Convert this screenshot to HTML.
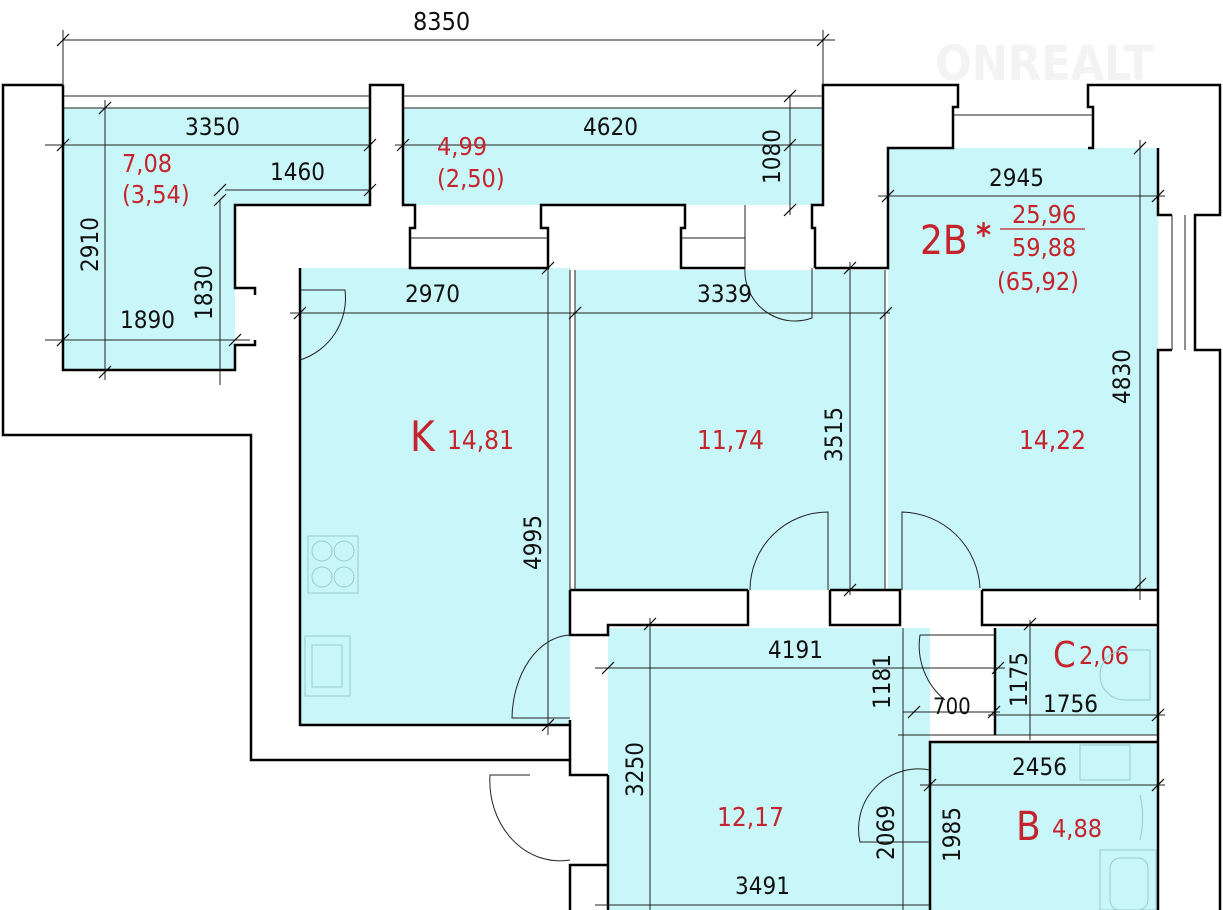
<!DOCTYPE html>
<html><head><meta charset="utf-8"><style>
html,body{margin:0;padding:0;background:#fff;}
svg{display:block;}
text{font-family:"DejaVu Sans Condensed","DejaVu Sans","Liberation Sans",sans-serif;}
.d{font-size:24px;fill:#111;}
.r{fill:#c4242b;}
</style></head><body>
<svg width="1223" height="910" viewBox="0 0 1223 910" xmlns="http://www.w3.org/2000/svg">
<text x="935" y="80" font-size="48" font-weight="bold" fill="#f3f3f3" font-family="Liberation Sans">ONREALT</text>
<g fill="#c9f6f8">
<rect x="63" y="108" width="307" height="97"/>
<rect x="63" y="205" width="172" height="165"/>
<rect x="403" y="108" width="420" height="97"/>
<rect x="300" y="268" width="270" height="457"/>
<rect x="575" y="270" width="310" height="320"/>
<rect x="888" y="148" width="270" height="442"/>
<rect x="608" y="628" width="322" height="282"/>
<rect x="995" y="628" width="163" height="107"/>
<rect x="930" y="742" width="228" height="168"/>
</g>
<g fill="none" stroke="#000" stroke-width="2.5">
<polyline points="63,85 3,85 3,435 251,435 251,760 570,760 570,775 608,775"/>
<polyline points="63,85 63,370 235,370 235,345 255,345 255,340"/>
<polyline points="255,295 255,288 235,288 235,205 370,205 370,85 403,85 403,205 415,205 415,228 410,228 410,268 548,268 548,228 541,228 541,205 685,205 685,228 681,228 681,268 745,268"/>
<polyline points="815,268 815,228 812,228 812,205 823,205 823,85 958,85 958,107 953,107 953,148 888,148 888,268 815,268"/>
<polyline points="1088,148 1093,148 1093,107 1088,107 1088,85 1220,85 1220,215 1195,215 1195,350 1220,350 1220,910"/>
<polyline points="1158,148 1158,215 1172,215"/>
<polyline points="1172,350 1158,350 1158,910"/>
<polyline points="300,268 300,725 570,725"/>
<polyline points="570,590 748,590"/>
<polyline points="830,590 900,590 900,625 830,625 830,590"/>
<polyline points="982,590 1158,590"/>
<polyline points="570,590 570,635 608,635 608,625 748,625 748,590"/>
<polyline points="570,720 570,760"/>
<polyline points="982,590 982,625 1158,625"/>
<line x1="608" y1="775" x2="608" y2="910"/>
<polyline points="570,910 570,865 608,865"/>
<line x1="995" y1="628" x2="995" y2="735"/>
<polyline points="930,910 930,742 1158,742"/>
</g>
<g fill="none" stroke="#222" stroke-width="1">
<line x1="63" y1="96" x2="370" y2="96"/><line x1="63" y1="108" x2="370" y2="108"/>
<line x1="403" y1="96" x2="823" y2="96"/><line x1="403" y1="108" x2="823" y2="108"/>
<line x1="410" y1="238" x2="548" y2="238"/><line x1="681" y1="238" x2="745" y2="238"/>
<line x1="745" y1="205" x2="745" y2="268"/>
<line x1="953" y1="115" x2="1093" y2="115"/>
<line x1="1172" y1="215" x2="1172" y2="350"/><line x1="1185" y1="215" x2="1185" y2="350"/>
<line x1="575" y1="270" x2="575" y2="590"/><line x1="570" y1="270" x2="570" y2="590"/>
<line x1="885" y1="270" x2="885" y2="590"/>
<line x1="903" y1="628" x2="903" y2="910"/>
<line x1="930" y1="735" x2="1158" y2="735"/>
<path d="M300,290 L345,290 A65,65 0 0 1 300,360"/>
<path d="M745,268 A50,50 0 0 0 812,318 L812,268"/>
<path d="M750,590 A78,78 0 0 1 828,512 L828,590"/>
<path d="M902,590 L902,512 A80,80 0 0 1 980,588"/>
<path d="M570,635 A60,85 0 0 0 512,718 L570,718"/>
<path d="M530,775 L490,775 A70,80 0 0 0 570,860"/>
<path d="M995,635 L920,635 A70,70 0 0 0 945,700"/>
<path d="M930,770 A60,60 0 0 0 860,842 L930,842"/>
<line x1="63" y1="40" x2="835" y2="40"/><line x1="63" y1="30" x2="63" y2="85"/><line x1="823" y1="30" x2="823" y2="85"/>
<line x1="45" y1="145" x2="370" y2="145"/><line x1="395" y1="145" x2="823" y2="145"/>
<line x1="105" y1="100" x2="105" y2="380"/>
<line x1="225" y1="190" x2="370" y2="190"/>
<line x1="220" y1="200" x2="220" y2="385"/>
<line x1="45" y1="340" x2="250" y2="340"/>
<line x1="790" y1="95" x2="790" y2="215"/>
<line x1="878" y1="196" x2="1165" y2="196"/>
<line x1="1140" y1="140" x2="1140" y2="600"/>
<line x1="290" y1="313" x2="890" y2="313"/>
<line x1="548" y1="265" x2="548" y2="735"/>
<line x1="850" y1="262" x2="850" y2="595"/>
<line x1="595" y1="668" x2="1005" y2="668"/>
<line x1="650" y1="618" x2="650" y2="910"/>
<line x1="903" y1="712" x2="1000" y2="712"/>
<line x1="898" y1="735" x2="1000" y2="735"/>
<line x1="988" y1="715" x2="1165" y2="715"/>
<line x1="1030" y1="620" x2="1030" y2="740"/>
<line x1="920" y1="785" x2="1165" y2="785"/>
<line x1="595" y1="905" x2="930" y2="905"/>
</g>
<g stroke="#000" stroke-width="1.2">
<path d="M57,46 l12,-12 M817,46 l12,-12 M57,151 l12,-12 M364,151 l12,-12 M397,151 l12,-12 M784,151 l12,-12 M99,114 l12,-12 M99,378 l12,-12 M214,196 l12,-12 M364,196 l12,-12 M214,206 l12,-12 M57,346 l12,-12 M229,346 l12,-12 M784,102 l12,-12 M784,216 l12,-12 M882,202 l12,-12 M1152,202 l12,-12 M1134,154 l12,-12 M1134,590 l12,-12 M294,319 l12,-12 M569,319 l12,-12 M880,319 l12,-12 M542,274 l12,-12 M542,731 l12,-12 M844,274 l12,-12 M844,596 l12,-12 M602,674 l12,-12 M992,674 l12,-12 M644,630 l12,-12 M908,718 l12,-12 M988,718 l12,-12 M1024,630 l12,-12 M1152,721 l12,-12 M924,791 l12,-12 M1152,791 l12,-12"/>
</g>
<g class="d">
<text x="413" y="30" font-size="25">8350</text>
<text x="185" y="135">3350</text>
<text x="583" y="135">4620</text>
<text x="270" y="180">1460</text>
<text x="989" y="186">2945</text>
<text x="405" y="302">2970</text>
<text x="697" y="302">3339</text>
<text x="120" y="328">1890</text>
<text x="768" y="658">4191</text>
<text x="1043" y="712">1756</text>
<text x="933" y="714" font-size="22">700</text>
<text x="1012" y="775">2456</text>
<text x="735" y="894">3491</text>
<text transform="translate(98,272) rotate(-90)">2910</text>
<text transform="translate(212,320) rotate(-90)">1830</text>
<text transform="translate(780,184) rotate(-90)">1080</text>
<text transform="translate(1130,404) rotate(-90)">4830</text>
<text transform="translate(842,462) rotate(-90)">3515</text>
<text transform="translate(541,570) rotate(-90)">4995</text>
<text transform="translate(890,709) rotate(-90)">1181</text>
<text transform="translate(1027,707) rotate(-90)">1175</text>
<text transform="translate(643,797) rotate(-90)">3250</text>
<text transform="translate(894,860) rotate(-90)">2069</text>
<text transform="translate(960,862) rotate(-90)">1985</text>
</g>
<g class="r">
<text x="122" y="172" font-size="25">7,08</text>
<text x="122" y="203" font-size="25">(3,54)</text>
<text x="437" y="155" font-size="25">4,99</text>
<text x="437" y="187" font-size="25">(2,50)</text>
<text x="410" y="451" font-size="42">K</text>
<text x="447" y="449" font-size="26">14,81</text>
<text x="697" y="449" font-size="26">11,74</text>
<text x="1019" y="449" font-size="26">14,22</text>
<text x="920" y="254" font-size="40">2B</text>
<text x="976" y="246" font-size="32" font-weight="bold">*</text>
<text x="1012" y="223" font-size="25">25,96</text>
<line x1="1000" y1="229" x2="1085" y2="229" stroke="#c4242b" stroke-width="1.2"/>
<text x="1012" y="256" font-size="25">59,88</text>
<text x="997" y="290" font-size="25">(65,92)</text>
<text x="1053" y="667" font-size="36">C</text>
<text x="1079" y="664" font-size="25">2,06</text>
<text x="717" y="826" font-size="26">12,17</text>
<text x="1016" y="840" font-size="40">B</text>
<text x="1052" y="837" font-size="25">4,88</text>
</g>
<g fill="none" stroke="#9cc" stroke-width="1">
<rect x="308" y="536" width="50" height="57"/>
<circle cx="322" cy="551" r="10"/><circle cx="344" cy="551" r="10"/><circle cx="322" cy="577" r="10"/><circle cx="344" cy="577" r="10"/>
<rect x="305" y="636" width="45" height="60"/><rect x="312" y="645" width="30" height="42"/>
<rect x="1080" y="745" width="50" height="35"/>
<path d="M1125,650 L1150,650 L1150,700 L1125,700 A25,25 0 0 1 1125,650"/>
<path d="M1140,795 A15,40 0 0 1 1140,840"/>
<rect x="1100" y="850" width="56" height="60"/><rect x="1110" y="858" width="38" height="52" rx="10"/>
</g>
</svg>
</body></html>
